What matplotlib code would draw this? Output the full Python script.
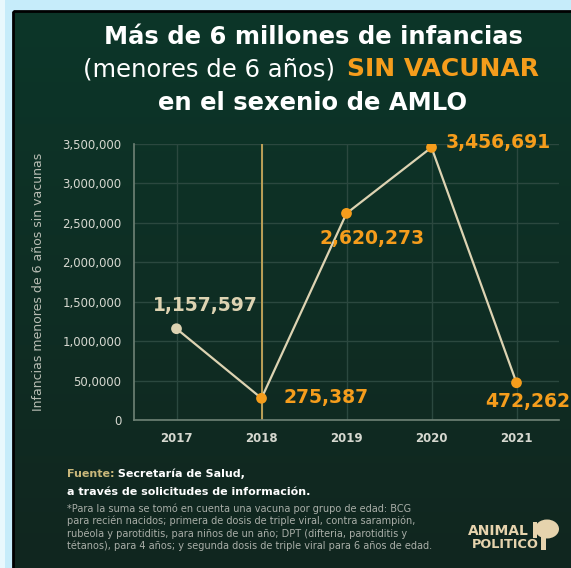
import matplotlib
matplotlib.use("Agg")
import matplotlib.pyplot as plt
import numpy as np
from matplotlib.patches import Rectangle, Ellipse

plt.rcParams['font.family'] = ['DejaVu Sans']

# datos
years = [2017, 2018, 2019, 2020, 2021]
values = [1157597, 275387, 2620273, 3456691, 472262]
labels = ["1,157,597", "275,387", "2,620,273", "3,456,691", "472,262"]
yticks = [0, 500000, 1000000, 1500000, 2000000, 2500000, 3000000, 3500000]
ytick_labels = ["0", "50,0000", "1,000,000", "1,500,000", "2,000,000",
                "2,500,000", "3,000,000", "3,500,000"]

W, H = 571, 568
fig = plt.figure(figsize=(W/100, H/100), dpi=100)
fig.patch.set_facecolor('#c6ecfa')

# fondo: panel verde oscuro con degradado
bg = fig.add_axes([0, 0, 1, 1])
bg.set_xlim(0, W)
bg.set_ylim(H, 0)
bg.axis('off')
grad = np.linspace(0, 1, 256).reshape(-1, 1)
c_top = np.array([12, 54, 41]) / 255
c_bot = np.array([17, 38, 31]) / 255
img = c_top + grad[:, :, None] * (c_bot - c_top)
bg.imshow(img, extent=[14, W, H, 12], aspect='auto', zorder=1)
bg.add_patch(Rectangle((13, 11), W, H, fill=False, edgecolor='black', lw=2, zorder=2))
bg.add_patch(Rectangle((0, 0), 5, H, facecolor='#e8f8fd', edgecolor='none', zorder=0))

orange = '#f59d1c'
cream = '#ddd3b2'
gold = '#c8a85a'
logo_c = '#e6d3ad'

# icono del logo (aproximado)
bg.add_patch(Ellipse((547, 529), 24, 19, facecolor=logo_c, edgecolor='none', zorder=3))
bg.add_patch(Rectangle((541, 531), 5, 19, facecolor=logo_c, edgecolor='none', zorder=3))
bg.add_patch(Rectangle((533, 522), 4, 16, facecolor=logo_c, edgecolor='none', zorder=3))

ax = fig.add_axes([134/W, 1-420/H, (559-134)/W, (420-144)/H])
ax.set_facecolor('none')
ax.set_xlim(2016.5, 2021.5)
ax.set_ylim(0, 3500000)

ax.set_yticks(yticks)
ax.set_yticklabels(ytick_labels)
ax.set_xticks(years)
ax.set_xticklabels([str(y) for y in years], fontweight='bold')
ax.tick_params(axis='both', length=0, colors='#d6d8d0', labelsize=8.5)
ax.tick_params(axis='y', pad=9)
ax.tick_params(axis='x', pad=9)
ax.grid(True, color='#2b483f', lw=1)
ax.set_axisbelow(True)
for s in ['top', 'right']:
    ax.spines[s].set_visible(False)
for s in ['left', 'bottom']:
    ax.spines[s].set_color('#6f8276')
    ax.spines[s].set_linewidth(1.2)

ax.axvline(2018, color=gold, lw=1.3, zorder=2)

ax.plot(years, values, color=cream, lw=1.6, zorder=3)
mcolors = [cream, orange, orange, orange, orange]
ax.scatter(years, values, s=60, c=mcolors, zorder=4, edgecolors='none')

offsets = [(29, 23), (22, 1), (26, -25), (14, 5), (-31, -19)]
has = ['center', 'left', 'center', 'left', 'left']
tcolors = [cream, orange, orange, orange, orange]
for x, y, t, off, ha, c in zip(years, values, labels, offsets, has, tcolors):
    ax.annotate(t, (x, y), xytext=off, textcoords='offset pixels', ha=ha, va='center',
                fontsize=13.5, fontweight='bold', color=c, annotation_clip=False)

ax.set_ylabel("Infancias menores de 6 años sin vacunas", color='#b8bdb4', fontsize=9)
ax.yaxis.set_label_coords(-(134-45)/(559-134), 0.5)

# titulo
fig.text(313/W, 1-37/H, "Más de 6 millones de infancias", ha='center', va='center',
         fontsize=17.5, fontweight='bold', color='white')
fig.text(343/W, 1-69/H, "(menores de 6 años) ", ha='right', va='center',
         fontsize=17.5, color='white')
fig.text(347/W, 1-69/H, "SIN VACUNAR", ha='left', va='center',
         fontsize=18, fontweight='bold', color=orange)
fig.text(313/W, 1-103/H, "en el sexenio de AMLO", ha='center', va='center',
         fontsize=17.5, fontweight='bold', color='white')

# fuente
t1 = fig.text(67/W, 1-474/H, "Fuente:", ha='left', va='center', fontsize=8,
              fontweight='bold', color='#c9b77a')
ax.annotate(" Secretaría de Salud,", xy=(1, 0.5), xycoords=t1, ha='left', va='center',
            fontsize=8, fontweight='bold', color='white', annotation_clip=False)
fig.text(67/W, 1-492/H, "a través de solicitudes de información.", ha='left', va='center',
         fontsize=8, fontweight='bold', color='white')
nota = ("*Para la suma se tomó en cuenta una vacuna por grupo de edad: BCG\n"
        "para recién nacidos; primera de dosis de triple viral, contra sarampión,\n"
        "rubéola y parotiditis, para niños de un año; DPT (difteria, parotiditis y\n"
        "tétanos), para 4 años; y segunda dosis de triple viral para 6 años de edad.")
fig.text(67/W, 1-503/H, nota, ha='left', va='top', fontsize=7, color='#a9aea8',
         linespacing=1.25)

# logo
fig.text(498/W, 1-531/H, "ANIMAL", ha='center', va='center', fontsize=10,
         fontweight='bold', color=logo_c)
fig.text(505/W, 1-545/H, "POLITICO", ha='center', va='center', fontsize=9.3,
         fontweight='bold', color=logo_c)

fig.savefig("out.png", dpi=100, facecolor=fig.get_facecolor())
